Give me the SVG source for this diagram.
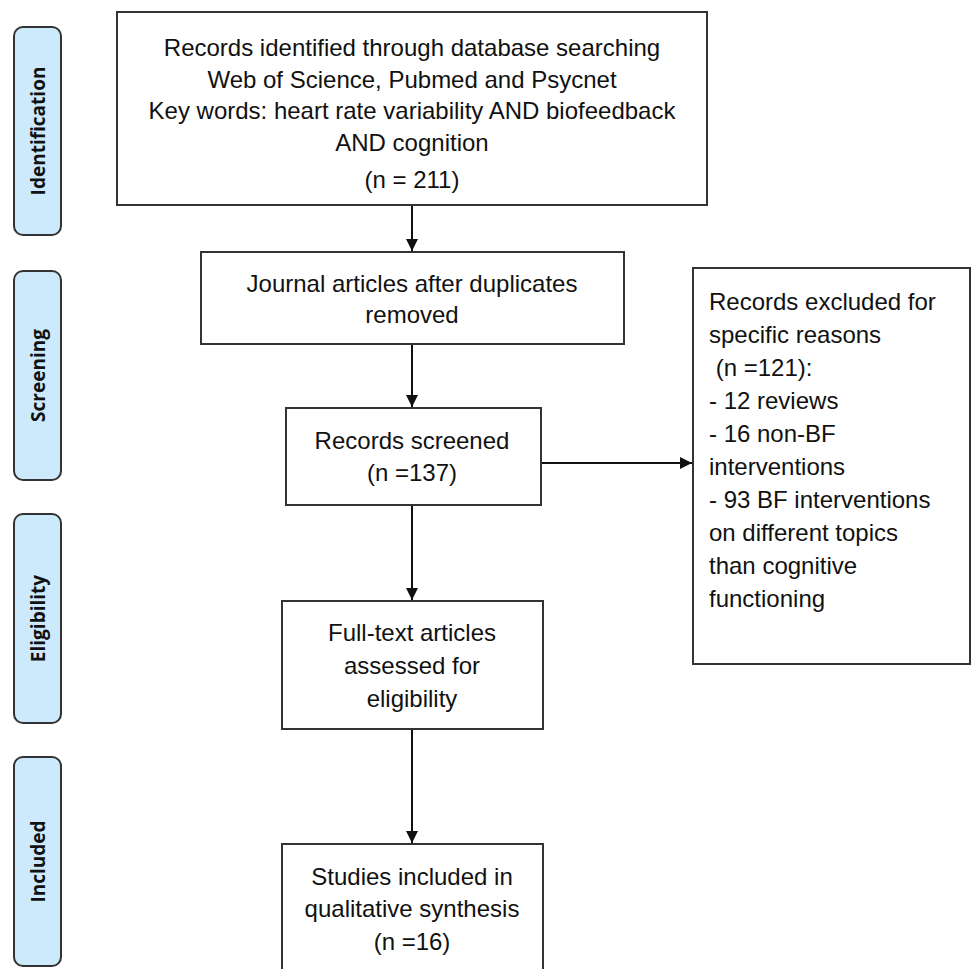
<svg xmlns="http://www.w3.org/2000/svg" width="972" height="969" viewBox="0 0 972 969">
<style>
.box{fill:#fff;stroke:#333;stroke-width:2}
.phase{fill:#cdeafd;stroke:#333;stroke-width:2}
.t{font-family:"Liberation Sans",Arial,sans-serif;font-size:24px;fill:#111}
.c{text-anchor:middle}
.p{font-family:"Open Sans","Noto Sans",sans-serif;font-weight:bold;font-size:19px;fill:#111;text-anchor:middle;dominant-baseline:central}
.ln{stroke:#111;stroke-width:2;fill:none}
</style>
<defs>
<marker id="ah" viewBox="0 0 10 10" refX="10" refY="5" markerWidth="6" markerHeight="6" orient="auto" markerUnits="strokeWidth">
<path d="M0,0 L10,5 L0,10 Z" fill="#111"/>
</marker>
</defs>
<rect width="972" height="969" fill="#fff"/>
<g id="phase-identification"><rect class="phase" x="14" y="27" width="47" height="208" rx="9"/><text class="p" transform="translate(38,131) rotate(-90)">Identification</text></g>
<g id="phase-screening"><rect class="phase" x="14" y="271" width="47" height="209" rx="9"/><text class="p" transform="translate(38,375.5) rotate(-90)">Screening</text></g>
<g id="phase-eligibility"><rect class="phase" x="14" y="514" width="47" height="209" rx="9"/><text class="p" transform="translate(38,618.5) rotate(-90)">Eligibility</text></g>
<g id="phase-included"><rect class="phase" x="14" y="757" width="47" height="209" rx="9"/><text class="p" transform="translate(38,861.5) rotate(-90)">Included</text></g>
<g id="connectors">
<line class="ln" x1="412" y1="205" x2="412" y2="251" marker-end="url(#ah)"/>
<line class="ln" x1="412" y1="344" x2="412" y2="407" marker-end="url(#ah)"/>
<line class="ln" x1="541" y1="463" x2="692" y2="463" marker-end="url(#ah)"/>
<line class="ln" x1="412" y1="505" x2="412" y2="600" marker-end="url(#ah)"/>
<line class="ln" x1="412" y1="729" x2="412" y2="843" marker-end="url(#ah)"/>
</g>
<g id="records-identified"><rect class="box" x="117" y="12" width="590" height="193"/>
<text class="t c"><tspan x="412" y="56">Records identified through database searching</tspan><tspan x="412" y="88">Web of Science, Pubmed and Psycnet</tspan><tspan x="412" y="119">Key words: heart rate variability AND biofeedback</tspan><tspan x="412" y="151">AND cognition</tspan><tspan x="412" y="188">(n = 211)</tspan></text></g>
<g id="duplicates-removed"><rect class="box" x="201" y="252" width="423" height="92"/>
<text class="t c"><tspan x="412" y="292">Journal articles after duplicates</tspan><tspan x="412" y="323">removed</tspan></text></g>
<g id="records-screened"><rect class="box" x="286" y="408" width="255" height="97"/>
<text class="t c"><tspan x="412" y="449">Records screened</tspan><tspan x="412" y="481">(n =137)</tspan></text></g>
<g id="records-excluded"><rect class="box" x="693" y="268" width="277" height="396"/>
<text class="t"><tspan x="709" y="310">Records excluded for</tspan><tspan x="709" y="343">specific reasons</tspan><tspan x="709" y="376"> (n =121):</tspan><tspan x="709" y="409">- 12 reviews</tspan><tspan x="709" y="442">- 16 non-BF</tspan><tspan x="709" y="475">interventions</tspan><tspan x="709" y="508">- 93 BF interventions</tspan><tspan x="709" y="541">on different topics</tspan><tspan x="709" y="574">than cognitive</tspan><tspan x="709" y="607">functioning</tspan></text></g>
<g id="full-text"><rect class="box" x="282" y="601" width="261" height="128"/>
<text class="t c"><tspan x="412" y="641">Full-text articles</tspan><tspan x="412" y="674">assessed for</tspan><tspan x="412" y="707">eligibility</tspan></text></g>
<g id="studies-included"><rect class="box" x="282" y="844" width="261" height="140"/>
<text class="t c"><tspan x="412" y="885">Studies included in</tspan><tspan x="412" y="917">qualitative synthesis</tspan><tspan x="412" y="950">(n =16)</tspan></text></g>
</svg>
